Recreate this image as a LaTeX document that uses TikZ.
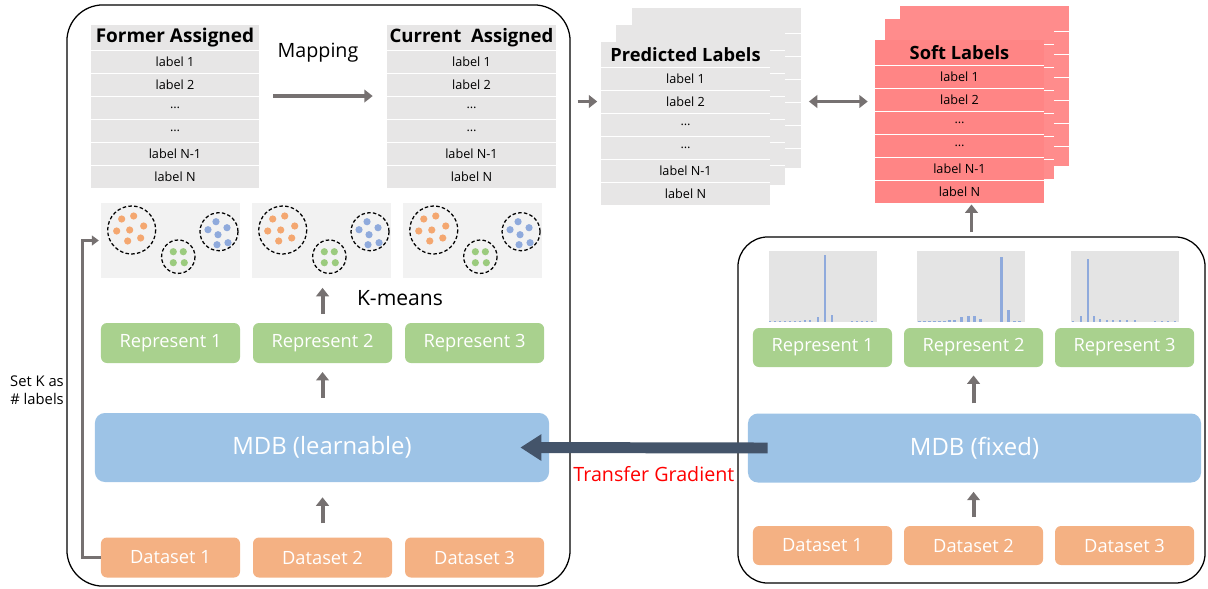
\documentclass[tikz,border=0pt]{standalone}
\usepackage{fontspec}
\setmainfont{Open Sans}
\usetikzlibrary{arrows.meta,positioning}
\definecolor{tblgray}{HTML}{E7E6E6}
\definecolor{tblpink}{HTML}{FF8585}
\definecolor{backpink}{HTML}{FF8C8C}
\definecolor{panelgray}{HTML}{F2F2F2}
\definecolor{histgray}{HTML}{E4E4E4}
\definecolor{repgreen}{HTML}{A9D18E}
\definecolor{dataorange}{HTML}{F4B183}
\definecolor{mdbblue}{HTML}{9DC3E6}
\definecolor{arrowgray}{HTML}{767171}
\definecolor{gradslate}{HTML}{44546A}
\definecolor{dotorange}{HTML}{F4A770}
\definecolor{dotblue}{HTML}{8FAADC}
\definecolor{dotgreen}{HTML}{9BCB7E}

\begin{document}
\begin{tikzpicture}[x=0.025cm,y=-0.025cm,
  framebox/.style={draw,line width=0.9pt,rounded corners=0.9cm,inner sep=0pt},
  headbox/.style={anchor=north,minimum width=4.2cm,minimum height=0.625cm,inner sep=0pt,outer sep=0pt},
  rowbox/.style={minimum width=4.2cm,minimum height=0.575cm,inner sep=0pt,outer sep=0pt,font=\fontsize{9}{9}\selectfont},
  repbox/.style={fill=repgreen,text=white,rounded corners=0.15cm,minimum width=3.475cm,minimum height=1cm,inner sep=0pt,outer sep=0pt,font=\fontsize{13}{13}\selectfont},
  dsbox/.style={repbox,fill=dataorange},
  mdbbox/.style={fill=mdbblue,text=white,rounded corners=0.25cm,minimum width=11.35cm,minimum height=1.725cm,font=\fontsize{17}{17}\selectfont},
  clusbox/.style={fill=panelgray,minimum width=3.475cm,minimum height=1.875cm,inner sep=0pt,outer sep=0pt},
  histbox/.style={fill=histgray,minimum width=2.7cm,minimum height=1.775cm,inner sep=0pt,outer sep=0pt},
  clusring/.style={line width=0.9pt,dash pattern=on 2.5pt off 1.6pt},
  garrow/.style={draw=arrowgray,line width=2.8pt,-{Triangle[width=9pt,length=6pt]}},
  kline/.style={draw=arrowgray,line width=2pt,-{Triangle[width=7pt,length=5pt]}},
  tarrow/.style={draw=gradslate,line width=7.8pt,-{Triangle[width=18pt,length=15pt]}}]
  \useasboundingbox (0,0) rectangle (1208,588);

  % the two frames
  \node[framebox,minimum width=12.575cm,minimum height=14.525cm] (lf) at (318.5,295.5) {};
  \node[framebox,rounded corners=0.75cm,minimum width=11.675cm,minimum height=8.65cm] (rf) at (971.5,410) {};

  % sheets behind the label tables
  \foreach \bx/\by/\fc in {632/8/tblgray,616/25/tblgray,900/6/backpink,885/19/backpink}{
    \fill[\fc] (\bx,\by) rectangle ++(169,160);
    \foreach \k in {0,...,5}
      \draw[white,line width=0.7pt] (\bx,\by+25+23*\k) -- ++(169,0);
  }

  % label tables
  \foreach \tb/\cx/\ty/\fc/\fs/\title in {fa/175/25/tblgray/13.5/Former Assigned,ca/471.5/25/tblgray/13.2/Current~~Assigned,pl/685.5/42/tblgray/13/Predicted Labels,sl/959.5/40/tblpink/13/Soft Labels}{
    \node[headbox,fill=\fc,font=\bfseries\fontsize{\fs}{\fs}\selectfont] (\tb-0) at (\cx,\ty) {\title};
    \foreach \txt [count=\i] in {label 1,label 2,\ldots,\ldots,label N-1,label N}{
      \pgfmathtruncatemacro\j{\i-1}
      \node[rowbox,fill=\fc,below=0pt of \tb-\j] (\tb-\i) {\txt};
      \draw[white,line width=0.7pt] (\tb-\i.north west) -- (\tb-\i.north east);
    }
  }
  \node[font=\fontsize{14}{14}\selectfont] (map) at (318,53) {Mapping};

  % k-means panels
  \node[clusbox] (c1) at (170.5,240.5) {};
  \node[clusbox,right=0.3cm of c1] (c2) {};
  \node[clusbox,right=0.3cm of c2] (c3) {};
  \foreach \c in {c1,c2,c3}{
    \begin{scope}[shift={(\c.north west)}]
      \draw[clusring] (30.7,27) circle (24) (118,28.7) circle (19) (77.3,53.7) circle (16.7);
      \foreach \dx/\dy in {-10/-11,2/-14,-15/1,-2/0,12/-4,-4/11,9/8}
        \fill[dotorange] ({30.7+(\dx)},{27+(\dy)}) circle (3.6);
      \foreach \dx/\dy in {-3/-10,-11/-2,8/-4,-1/3,-2/13,9/11}
        \fill[dotblue] ({118+(\dx)},{28.7+(\dy)}) circle (3.6);
      \foreach \dx/\dy in {-5/-5,5/-5,-5/6,6/6}
        \fill[dotgreen] ({77.3+(\dx)},{53.7+(\dy)}) circle (3.6);
    \end{scope}
  }
  \node[font=\fontsize{15}{15}\selectfont] (km) at (400,298) {K-means};

  % left side
  \node[repbox] (lr1) at (170.5,343) {Represent 1};
  \node[repbox,right=0.325cm of lr1] (lr2) {Represent 2};
  \node[repbox,right=0.325cm of lr2] (lr3) {Represent 3};
  \node[mdbbox] (ml) at (322,447.5) {MDB (learnable)};
  \node[dsbox] (ld1) at (170.5,557.5) {Dataset 1};
  \node[dsbox,right=0.325cm of ld1] (ld2) {Dataset 2};
  \node[dsbox,right=0.325cm of ld2] (ld3) {Dataset 3};
  \node[font=\fontsize{10.5}{13}\selectfont,align=right] (setk) at (37,390) {Set K as\\\# labels};

  % right side
  \node[histbox] (h1) at (823,286.5) {};
  \node[histbox] (h2) at (970.5,286.5) {};
  \node[histbox] (h3) at (1125,286.5) {};
  \begin{scope}[shift={(h1.south west)}]
    \foreach \bx/\bh in {1/1,6/1,11/1,16/1,21/1,26/1,31/1,36/2,41/2,49/5,56/67,63/7,83/1,88/1,93/1,98/1,103/1}
      \fill[dotblue] (\bx-1.3,0) rectangle (\bx+1.3,-\bh);
  \end{scope}
  \begin{scope}[shift={(h2.south west)}]
    \foreach \bx/\bh in {3/1,8/1,13/1,18/1,23/1,28/1,33/2,38/2,45/5,52/6,58/6,64/3,85/65,92/12,98/1,103/1}
      \fill[dotblue] (\bx-1.3,0) rectangle (\bx+1.3,-\bh);
  \end{scope}
  \begin{scope}[shift={(h3.south west)}]
    \foreach \bx/\bh in {2/1,10/6,17/63,23/6,29/3,36/2,42/2,49/2,56/2,64/2,84/1,91/1,97/1,104/1}
      \fill[dotblue] (\bx-1.3,0) rectangle (\bx+1.3,-\bh);
  \end{scope}
  \node[repbox,minimum height=0.975cm] (rr1) at (822.5,347.5) {Represent 1};
  \node[repbox,minimum height=0.975cm,right=0.3cm of rr1] (rr2) {Represent 2};
  \node[repbox,minimum height=0.975cm,right=0.3cm of rr2] (rr3) {Represent 3};
  \node[mdbbox,minimum width=11.325cm] (mf) at (974.5,448) {MDB (fixed)};
  \node[dsbox,minimum height=0.975cm] (rd1) at (822.5,545.5) {Dataset 1};
  \node[dsbox,minimum height=0.975cm,right=0.3cm of rd1] (rd2) {Dataset 2};
  \node[dsbox,minimum height=0.975cm,right=0.3cm of rd2] (rd3) {Dataset 3};

  % arrows
  \draw[garrow,shorten <=10pt,shorten >=10.5pt] (fa-3.north east) -- (fa-3.north east -| ca-3.west);
  \draw[garrow,shorten <=5pt,shorten >=3pt] (lf.east |- pl-2) -- (pl-2.west);
  \draw[garrow,{Triangle[width=9pt,length=6pt]}-{Triangle[width=9pt,length=6pt]},shorten <=28pt,shorten >=5.5pt] (pl-2.east) -- (pl-2.east -| sl-2.west);
  \draw[garrow,shorten <=3pt,shorten >=1pt] (rf.north) -- (rf.north |- sl-6.south);
  \draw[garrow,shorten <=6.4pt,shorten >=7pt] (lr2.north) -- (lr2.north |- c2.south);
  \draw[garrow,shorten <=10.7pt,shorten >=6.4pt] (ml.north -| lr2) -- (lr2.south);
  \draw[garrow,shorten <=10pt,shorten >=10.7pt] (ld2.north) -- (ld2.north |- ml.south);
  \draw[garrow,shorten <=7pt,shorten >=6pt] (mf.north -| rr2) -- (rr2.south);
  \draw[garrow,shorten <=6.4pt,shorten >=6.4pt] (rd2.north) -- (rd2.north |- mf.south);
  \draw[kline,shorten >=1.5pt] (ld1.west) -- ++(-13pt,0) |- (c1.west);
  \draw[tarrow] ([xshift=0.5cm]mf.west) -- ([xshift=-0.725cm]ml.east)
    node[pos=0.46,below=6pt,text=red,font=\fontsize{14}{14}\selectfont] (tg) {Transfer Gradient};
\end{tikzpicture}
\end{document}
